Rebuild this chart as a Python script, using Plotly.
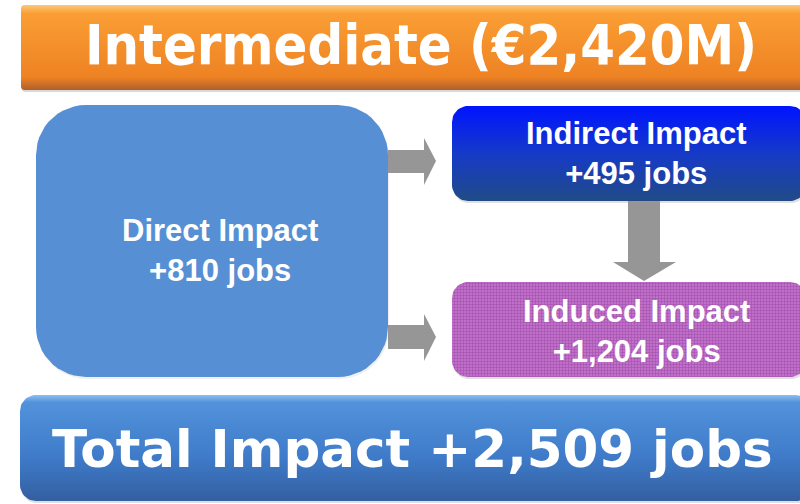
import numpy as np
import plotly.graph_objects as go

# scenario and job figures
scenario = "Intermediate"
spend_m = 2420
impact_names = ["Direct Impact", "Indirect Impact", "Induced Impact"]
impact_jobs = [810, 495, 1204]
total_jobs = 2509

W, H = 800, 504
sans = "Liberation Sans, Arial, sans-serif"
wide = "DejaVu Sans, sans-serif"
cond = "DejaVu Sans Condensed, DejaVu Sans, sans-serif"


def rrect(x0, y0, x1, y1, r, n=14):
    # rounded rectangle outline, y grows downwards
    xs, ys = [], []
    corners = [(x0 + r, y0 + r, 180, 270), (x1 - r, y0 + r, 270, 360),
               (x1 - r, y1 - r, 0, 90), (x0 + r, y1 - r, 90, 180)]
    for cx, cy, a0, a1 in corners:
        a = np.radians(np.linspace(a0, a1, n))
        xs += list(cx + r * np.cos(a))
        ys += list(cy + r * np.sin(a))
    return xs + [xs[0]], ys + [ys[0]]


fig = go.Figure()


def box(x0, y0, x1, y1, r, shadow=0.12, **fill):
    xs, ys = rrect(x0, y0, x1, y1, r)
    if shadow:
        sx, sy = rrect(x0 + 1, y0 + 2, x1 + 1, y1 + 2, r)
        fig.add_trace(go.Scatter(x=sx, y=sy, fill="toself", mode="none",
                                 fillcolor=f"rgba(0,0,0,{shadow})", hoverinfo="skip"))
    fig.add_trace(go.Scatter(x=xs, y=ys, fill="toself", mode="lines",
                             line=dict(width=0), hoverinfo="skip", **fill))


def grad(y0, y1, stops):
    return dict(type="vertical", start=y0, stop=y1, colorscale=stops)


def arrow(pts):
    xs = [p[0] for p in pts] + [pts[0][0]]
    ys = [p[1] for p in pts] + [pts[0][1]]
    fig.add_trace(go.Scatter(x=xs, y=ys, fill="toself", mode="none",
                             fillcolor="#969696", hoverinfo="skip"))


# banner
box(21, 5, 812, 90, 3, shadow=0.15, fillgradient=grad(5, 90, [
    [0, "rgb(252,200,120)"], [0.1, "rgb(250,158,52)"],
    [0.85, "rgb(238,130,35)"], [1, "rgb(175,95,45)"]]))

# direct impact
box(36, 105, 388, 377, 50, shadow=0.06, fillcolor="#568fd4")

# indirect impact
box(452, 106, 806, 201, 16, fillgradient=grad(106, 201, [
    [0, "rgb(0,20,255)"], [0.5, "rgb(22,58,200)"], [1, "rgb(32,75,135)"]]))

# induced impact
box(452, 282, 806, 377, 16, fillcolor="#b060b8",
    fillpattern=dict(shape="+", fgcolor="#833290", bgcolor="#c070c8",
                     size=3, solidity=0.35))

# total
box(20, 395, 812, 501, 16, fillgradient=grad(395, 501, [
    [0, "rgb(140,190,240)"], [0.07, "rgb(82,146,220)"],
    [0.6, "rgb(62,122,200)"], [1, "rgb(52,95,160)"]]))

# arrows
arrow([(388, 150), (424, 150), (424, 138), (436, 161), (424, 185), (424, 173), (388, 173)])
arrow([(388, 325), (424, 325), (424, 314), (436, 337), (424, 361), (424, 349), (388, 349)])
arrow([(628, 201), (660, 201), (660, 262), (676, 262), (644, 281), (613, 262), (628, 262)])

ann = [
    dict(x=421, y=44, text=f"{scenario} (€{spend_m:,}M)", size=55.5, family=cond),
    dict(x=220, y=250, text=f"{impact_names[0]}<br>+{impact_jobs[0]:,} jobs", size=31, family=sans),
    dict(x=636, y=153, text=f"{impact_names[1]}<br>+{impact_jobs[1]:,} jobs", size=31, family=sans),
    dict(x=636, y=331, text=f"{impact_names[2]}<br>+{impact_jobs[2]:,} jobs", size=31, family=sans),
    dict(x=412, y=449, text=f"Total Impact +{total_jobs:,} jobs", size=51.5, family=wide),
]
for a in ann:
    fig.add_annotation(x=a["x"], y=a["y"], text=f"<b>{a['text']}</b>", showarrow=False,
                       xanchor="center", yanchor="middle",
                       font=dict(size=a["size"], family=a["family"], color="white"))

fig.update_xaxes(range=[0, W], visible=False, fixedrange=True)
fig.update_yaxes(range=[H, 0], visible=False, fixedrange=True)
fig.update_layout(width=W, height=H, margin=dict(l=0, r=0, t=0, b=0),
                  paper_bgcolor="white", plot_bgcolor="white", showlegend=False)

fig.write_html("out.html", config=dict(displayModeBar=False),
               post_script="document.body.style.margin='0px';")
